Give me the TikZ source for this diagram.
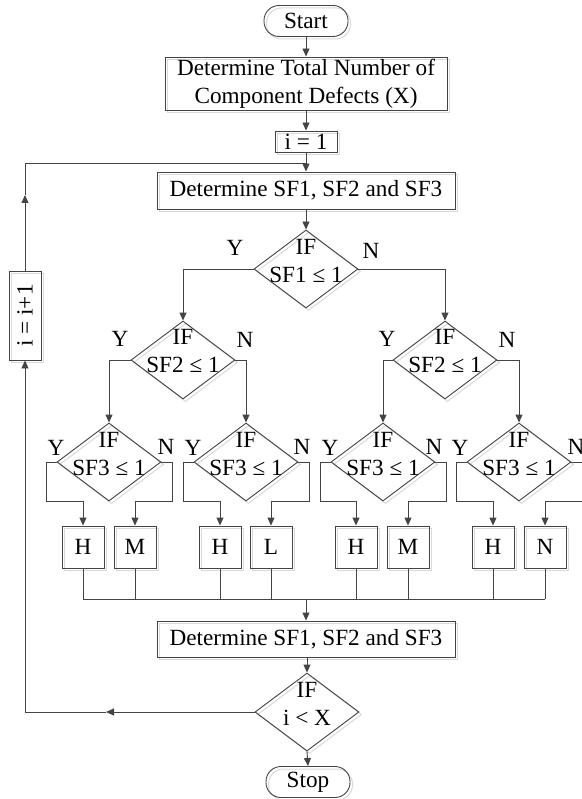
\documentclass[tikz,border=0pt]{standalone}
\usepackage{fontspec}
\setmainfont{Liberation Serif}
\usetikzlibrary{arrows.meta,shapes.geometric}
\definecolor{ln}{HTML}{444444}
\definecolor{shd}{HTML}{DADADA}
\begin{document}
\begin{tikzpicture}[x=1pt,y=-1pt,
  font=\fontsize{23.2}{28}\selectfont,
  every node/.style={inner sep=0pt, text=black},
  shadowed/.style={preaction={draw=shd, line width=1pt, transform canvas={shift={(2.5pt,-2.5pt)}}}},
  base/.style={draw=ln, line width=0.9pt, shadowed, align=center},
  term/.style={base, rectangle, rounded corners=15pt, minimum width=84pt, minimum height=31pt},
  proc/.style={base, rectangle},
  leaf/.style={proc, minimum width=42pt, minimum height=42pt},
  dia/.style={base, diamond, minimum width=104pt, minimum height=78pt},
  lbl/.style={align=center},
  ln/.style={draw=ln, line width=0.9pt},
  arr/.style={ln, -{Triangle[length=8pt,width=7pt]}},
]
\useasboundingbox (0,0) rectangle (581,799);

% main column
\node[term] (start) at (306,21) {Start};
\node[proc, minimum width=282pt, minimum height=53pt] (tot) at (306,83.5) {Determine Total Number of\\Component Defects (X)};
\node[proc, minimum width=62pt, minimum height=21pt] (i1) at (306,141.5) {i = 1};
\node[proc, minimum width=298pt, minimum height=37pt] (sfa) at (306,190.5) {Determine SF1, SF2 and SF3};

% decisions
\node[dia] (d1) at (306,269) {};
\node[lbl] (t1) at (306,261) {IF\\SF1 ≤ 1};
\node[dia] (d2l) at (183,360) {};
\node[lbl] (t2l) at (183,351) {IF\\SF2 ≤ 1};
\node[dia] (d2r) at (445,360) {};
\node[lbl] (t2r) at (445,351) {IF\\SF2 ≤ 1};
\node[dia] (d3a) at (109,462) {};
\node[lbl] (t3a) at (109,454) {IF\\SF3 ≤ 1};
\node[dia] (d3b) at (246,462) {};
\node[lbl] (t3b) at (246,454) {IF\\SF3 ≤ 1};
\node[dia] (d3c) at (383,462) {};
\node[lbl] (t3c) at (383,454) {IF\\SF3 ≤ 1};
\node[dia] (d3d) at (519,462) {};
\node[lbl] (t3d) at (519,454) {IF\\SF3 ≤ 1};

% Y / N labels
\node (y1) at (235,248) {Y};
\node (n1) at (371,251) {N};
\node (y2l) at (120,339) {Y};
\node (n2l) at (245,340) {N};
\node (y2r) at (387,339) {Y};
\node (n2r) at (507,340) {N};
\node (y3a) at (56,448) {Y};
\node (n3a) at (166,447) {N};
\node (y3b) at (193,448) {Y};
\node (n3b) at (302,447) {N};
\node (y3c) at (330,448) {Y};
\node (n3c) at (434,447) {N};
\node (y3d) at (460,448) {Y};
\node (n3d) at (576,447) {N};

% leaves
\node[leaf] (h1) at (83,547) {H};
\node[leaf] (m1) at (135,547) {M};
\node[leaf] (h2) at (220,547) {H};
\node[leaf] (l2) at (271,547) {L};
\node[leaf] (h3) at (356,547) {H};
\node[leaf] (m3) at (408,547) {M};
\node[leaf] (h4) at (493,547) {H};
\node[leaf] (n4) at (545,547) {N};

% lower part
\node[proc, minimum width=298pt, minimum height=36pt] (sfb) at (306,639) {Determine SF1, SF2 and SF3};
\node[dia] (d4) at (307,712) {};
\node[lbl] (t4) at (307,704) {IF\\i < X};
\node[term] (stop) at (308,782) {Stop};
\node[proc, rotate=90, minimum width=89pt, minimum height=32pt] (inc) at (25,315.5) {i = i+1};

% connectors main
\draw[arr] (start) -- (tot);
\draw[arr] (tot) -- (i1);
\draw[arr] (i1) -- (sfa);
\draw[arr] (sfa) -- (d1);
\draw[arr] (d1.west) -| (d2l.north);
\draw[arr] (d1.east) -| (d2r.north);
\draw[arr] (d2l.west) -| (d3a.north);
\draw[arr] (d2l.east) -| (d3b.north);
\draw[arr] (d2r.west) -| (d3c.north);
\draw[arr] (d2r.east) -| (d3d.north);

% level 3 branches
\draw[arr] (d3a.west) -- ++(-10,0) |- (h1.north |- d3a.south) -- (h1.north);
\draw[arr] (d3a.east) -- ++(11,0) |- (m1.north |- d3a.south) -- (m1.north);
\draw[arr] (d3b.west) -- ++(-10,0) |- (h2.north |- d3b.south) -- (h2.north);
\draw[arr] (d3b.east) -- ++(11,0) |- (l2.north |- d3b.south) -- (l2.north);
\draw[arr] (d3c.west) -- ++(-10,0) |- (h3.north |- d3c.south) -- (h3.north);
\draw[arr] (d3c.east) -- ++(11,0) |- (m3.north |- d3c.south) -- (m3.north);
\draw[arr] (d3d.west) -- ++(-10,0) |- (h4.north |- d3d.south) -- (h4.north);
\draw[arr] (d3d.east) -- ++(11,0) |- (n4.north |- d3d.south) -- (n4.north);

% bus
\coordinate (bus) at (306,599);
\foreach \b in {h1,m1,h2,l2,h3,m3,h4,n4}
  \draw[ln] (\b.south) -- (\b.south |- bus);
\draw[ln] (h1.south |- bus) -- (n4.south |- bus);
\draw[arr] (bus) -- (sfb.north);
\draw[arr] (sfb.south -| d4.north) -- (d4.north);
\draw[arr] (d4.south) -- (stop.north);

% loop
\coordinate (la) at (106,712);
\coordinate (lb) at (25,712);
\coordinate (lc) at (25,195);
\coordinate (ld) at (25,163);
\coordinate (le) at (306,163);
\draw[arr] (d4.west) -- (la);
\draw[arr] (la) -- (lb) -- (inc.west);
\draw[arr] (inc.east) -- (lc);
\draw[ln] (lc) -- (ld) -- (le);
\end{tikzpicture}
\end{document}
